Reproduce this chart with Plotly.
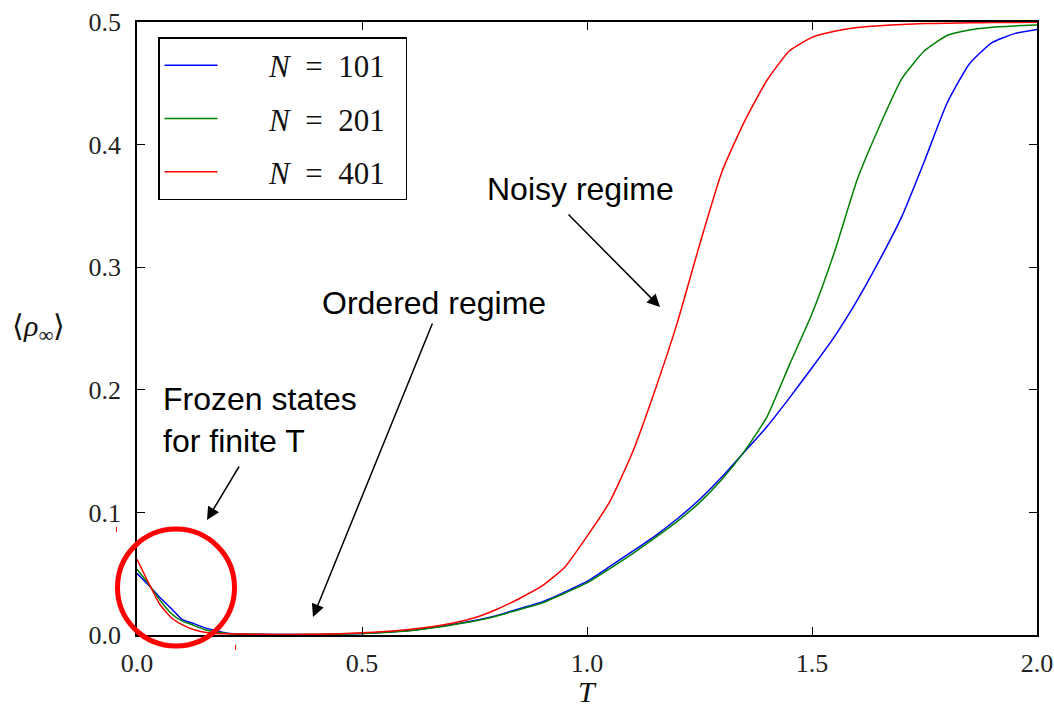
import plotly.graph_objects as go

# ---------------- data ----------------
T = [0.0, 0.025, 0.05, 0.075, 0.1, 0.125, 0.15, 0.175, 0.2, 0.25, 0.3, 0.35, 0.4,
     0.45, 0.5, 0.55, 0.6, 0.65, 0.7, 0.75, 0.8, 0.85, 0.9, 0.95, 1.0, 1.05, 1.1,
     1.15, 1.2, 1.25, 1.3, 1.35, 1.4, 1.45, 1.5, 1.55, 1.6, 1.65, 1.7, 1.75, 1.8,
     1.85, 1.9, 1.95, 2.0]

rho_101 = [0.0503, 0.041, 0.031, 0.022, 0.0128, 0.0095, 0.006, 0.0036, 0.0015, 0.0007,
           0.0004, 0.0004, 0.0005, 0.0008, 0.0013, 0.0022, 0.0034, 0.0058, 0.0085, 0.0118,
           0.016, 0.0215, 0.027, 0.035, 0.0437, 0.0557, 0.068, 0.0805, 0.0946, 0.1105,
           0.129, 0.1495, 0.170, 0.1934, 0.218, 0.2434, 0.2727, 0.3057, 0.3417, 0.3867,
           0.4337, 0.466, 0.4832, 0.4905, 0.4938]

rho_201 = [0.0536, 0.042, 0.029, 0.018, 0.0115, 0.008, 0.0045, 0.0025, 0.0013, 0.0006,
           0.0004, 0.0004, 0.0005, 0.0008, 0.0012, 0.0021, 0.0033, 0.0055, 0.0082, 0.0114,
           0.0155, 0.0208, 0.026, 0.034, 0.0425, 0.054, 0.066, 0.079, 0.0925, 0.108,
           0.127, 0.150, 0.178, 0.2205, 0.262, 0.3125, 0.371, 0.415, 0.454, 0.4765,
           0.489, 0.4935, 0.4958, 0.4968, 0.4975]

rho_401 = [0.0617, 0.043, 0.0255, 0.0145, 0.0085, 0.0045, 0.0022, 0.0013, 0.001, 0.0007,
           0.0005, 0.0005, 0.0007, 0.0011, 0.0018, 0.0028, 0.0042, 0.0065, 0.0095, 0.014,
           0.021, 0.0298, 0.040, 0.0551, 0.0805, 0.1083, 0.148, 0.1985, 0.254, 0.318,
           0.378, 0.419, 0.4525, 0.4765, 0.4875, 0.4925, 0.4955, 0.497, 0.498, 0.4987,
           0.499, 0.4993, 0.4995, 0.4996, 0.4997]

labels = ["N = 101", "N = 201", "N = 401"]
colors = ["#0000ff", "#008000", "#ff0000"]
values = [rho_101, rho_201, rho_401]

x_ticks = [0.0, 0.5, 1.0, 1.5, 2.0]
y_ticks = [0.0, 0.1, 0.2, 0.3, 0.4, 0.5]

# ---------------- figure ----------------
W, H = 1054, 707
L, R, TOP, B = 137, 17, 22, 72
PW, PH = W - L - R, H - TOP - B

def px(xp):
    return (xp - L) / PW

def py(yp):
    return (H - B - yp) / PH

fig = go.Figure()
for i, (lab, vals, col) in enumerate(zip(labels, values, colors)):
    n, num = lab.split(" = ")
    name = "\u2003\u2002<i>" + n + "</i>\u2002=\u2002" + num + "\u2002"
    fig.add_trace(go.Scatter(x=T, y=vals, mode="lines", name=name,
                             line=dict(color=col, width=1.5, shape="spline", smoothing=0.5),
                             legendgroup=f"g{i}"))

serif = "Liberation Serif"
sans = "Liberation Sans"

axis_common = dict(showline=True, linecolor="black", linewidth=1.5, mirror="ticks",
                   ticks="inside", ticklen=8, tickwidth=1, tickcolor="black",
                   showgrid=False, zeroline=False, automargin=False,
                   tickfont=dict(family=serif, size=26, color="#222"))

fig.update_xaxes(range=[0, 2], tickvals=x_ticks, tickformat=".1f", ticklabelstandoff=4,
                 **axis_common)
fig.update_yaxes(range=[0, 0.5], tickvals=y_ticks, tickformat=".1f", ticklabelstandoff=9,
                 **axis_common)

ann = []
# axis titles
ann.append(dict(text="<i>T</i>", xref="paper", yref="paper", x=px(587), y=py(691),
                showarrow=False, font=dict(family=serif, size=30, color="#111"),
                xanchor="center", yanchor="middle"))
ann.append(dict(text="⟨<i>ρ</i><sub>∞</sub>⟩", xref="paper", yref="paper", x=px(38), y=py(328),
                showarrow=False, font=dict(family=serif, size=30, color="#111"),
                xanchor="center", yanchor="middle"))
# text labels
tf = dict(family=sans, size=32, color="black")
ann.append(dict(text="Noisy regime", xref="paper", yref="paper", x=px(580.5), y=py(189),
                showarrow=False, font=tf, xanchor="center", yanchor="middle"))
ann.append(dict(text="Ordered regime", xref="paper", yref="paper", x=px(434), y=py(303),
                showarrow=False, font=tf, xanchor="center", yanchor="middle"))
ann.append(dict(text="Frozen states<br>for finite T", xref="paper", yref="paper",
                x=px(161), y=py(420), showarrow=False, font=tf, align="left",
                xanchor="left", yanchor="middle"))
# arrows (tip, tail)
for (tx, ty, sx, sy) in [(660, 307, 567, 213), (313, 617, 433, 322), (207, 520, 240, 465)]:
    ann.append(dict(text="", xref="paper", yref="paper", x=px(tx), y=py(ty),
                    ax=sx - tx, ay=sy - ty, axref="pixel", ayref="pixel",
                    showarrow=True, arrowhead=2, arrowsize=1.7, arrowwidth=1.5,
                    arrowcolor="black"))

shapes = [
    dict(type="circle", xref="paper", yref="paper", x0=px(117.5), x1=px(234.5),
         y0=py(646), y1=py(529), line=dict(color="#ff0000", width=5)),
    dict(type="line", xref="paper", yref="paper", x0=px(116.5), x1=px(116.5),
         y0=py(527), y1=py(532), line=dict(color="#ff0000", width=1)),
    dict(type="line", xref="paper", yref="paper", x0=px(235.5), x1=px(235.5),
         y0=py(645), y1=py(650), line=dict(color="#ff0000", width=1)),
]

fig.update_layout(
    width=W, height=H,
    margin=dict(l=L, r=R, t=TOP, b=B, pad=0, autoexpand=False),
    plot_bgcolor="white", paper_bgcolor="white",
    showlegend=True,
    legend=dict(x=px(158), y=py(37), xanchor="left", yanchor="top",
                bgcolor="white", bordercolor="black", borderwidth=1.5,
                font=dict(family=serif, size=31, color="#111"),
                traceorder="grouped", tracegroupgap=10, itemwidth=53),
    annotations=ann, shapes=shapes,
)

fig.write_html("out.html", config={"displayModeBar": False},
               post_script="document.body.style.margin='0';")
